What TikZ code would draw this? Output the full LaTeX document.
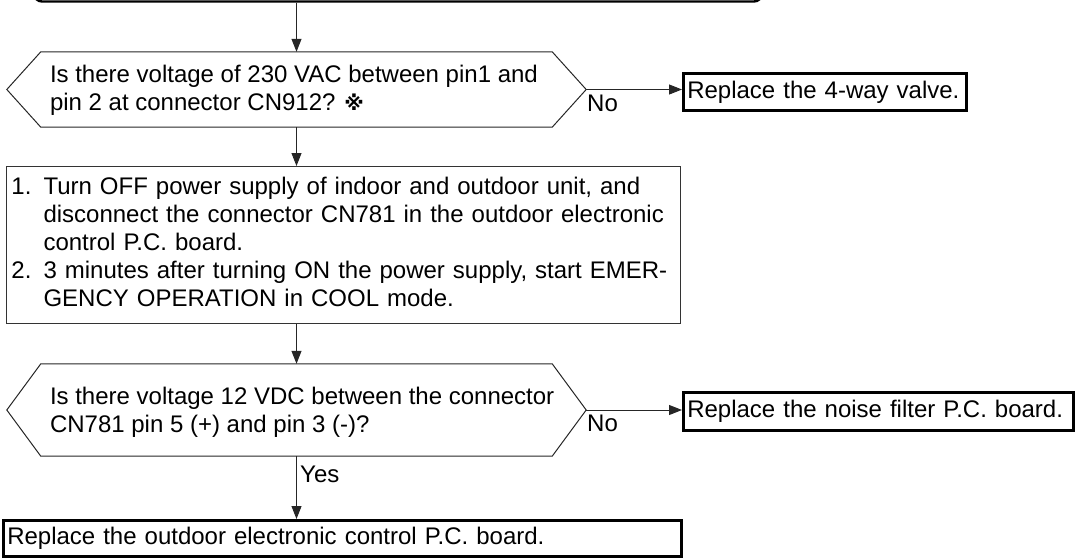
\documentclass[tikz,border=0pt]{standalone}
\usepackage{fontspec}
\setmainfont{Liberation Sans}
\newfontfamily\refmarkfont{DejaVu Sans}
\usetikzlibrary{arrows.meta,calc}
\begin{document}
\begin{tikzpicture}[x=1pt,y=-1pt,
  every node/.style={font=\fontsize{24}{28}\selectfont},
  thinline/.style={line width=1pt,draw=black!85},
  thickbox/.style={draw=black,line width=2.6pt,inner sep=0pt,anchor=north west,align=left},
  hexnode/.style={inner sep=0pt},
  hextext/.style={anchor=west,align=left,inner sep=0pt},
  arr/.style={line width=1pt,draw=black!85,-{Triangle[length=13pt,width=10pt]}},
  lbl/.style={anchor=west,inner sep=0pt}
]
\useasboundingbox (0,0) rectangle (1076,557);
% top (cut-off) box
\node[draw=black,line width=2.4pt,rounded corners=8pt,minimum width=728pt,minimum height=60pt] (top) at (398,-28.5) {};
% first decision
\node[hexnode,minimum width=579pt,minimum height=75pt] (h1) at (296.5,89.5) {};
\draw[thinline] (h1.west) -- ([xshift=34pt]h1.north west) -- ([xshift=-34pt]h1.north east) -- (h1.east)
  -- ([xshift=-34pt]h1.south east) -- ([xshift=34pt]h1.south west) -- cycle;
\node[hextext] (t1) at ([xshift=43pt,yshift=-1pt]h1.west)
  {Is there voltage of 230 VAC between pin1 and\\pin 2 at connector CN912? {\refmarkfont\bfseries\fontsize{20}{28}\selectfont ※}};
\node[thickbox,minimum width=283pt,minimum height=37pt,text width=275pt,inner xsep=4pt] (b1) at (682,72) {Replace the 4-way valve.};
% action box
\node[draw=black!80,line width=1pt,anchor=north west,minimum width=674pt,minimum height=157pt,text width=664pt,align=left,inner xsep=5pt,inner ysep=0pt] (b2) at (6,166)
  {\begin{tabular}{@{}l@{ }l@{}}
  1. & Turn OFF power supply of indoor and outdoor unit, and\\
     & disconnect the connector CN781 in the outdoor electronic\\
     & control P.C. board.\\
  2. & 3 minutes after turning ON the power supply, start EMER-\\
     & GENCY OPERATION in COOL mode.
  \end{tabular}};
% second decision
\node[hexnode,minimum width=579pt,minimum height=92pt] (h2) at (296.5,410) {};
\draw[thinline] (h2.west) -- ([xshift=34pt]h2.north west) -- ([xshift=-34pt]h2.north east) -- (h2.east)
  -- ([xshift=-34pt]h2.south east) -- ([xshift=34pt]h2.south west) -- cycle;
\node[hextext] (t2) at ([xshift=43pt,yshift=-2pt]h2.west)
  {Is there voltage 12 VDC between the connector\\CN781 pin 5 (+) and pin 3 ({-})?};
\node[thickbox,minimum width=390pt,minimum height=38pt,text width=382pt,inner xsep=4pt] (b3) at (682,391) {Replace the noise filter P.C. board.};
\node[thickbox,minimum width=678pt,minimum height=36pt,text width=670pt,inner xsep=4pt] (b4) at (2,519) {Replace the outdoor electronic control P.C. board.};
% connectors
\draw[arr] (top.south -| h1.north) -- (h1.north);
\draw[arr] (h1.east) -- (b1.west |- h1.east);
\node[lbl] (no1) at (587,103) {No};
\draw[arr] (h1.south) -- (h1.south |- b2.north);
\draw[arr] (h1.south |- b2.south) -- (h2.north);
\draw[arr] (h2.east) -- (b3.west |- h2.east);
\node[lbl] (no2) at (587,423) {No};
\draw[arr] (h2.south) -- (h2.south |- b4.north);
\node[lbl] (yes) at (300,474) {Yes};
\end{tikzpicture}
\end{document}
